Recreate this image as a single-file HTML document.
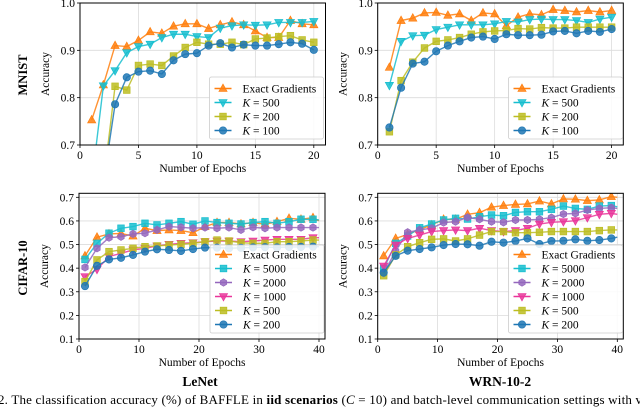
<!DOCTYPE html>
<html><head><meta charset="utf-8">
<style>
body{margin:0;background:#fff;}
svg{display:block;font-family:"Liberation Serif",serif;}
</style></head>
<body>
<svg id="fig" width="640" height="407" viewBox="0 0 640 407" xmlns="http://www.w3.org/2000/svg">
<text x="27" y="75" transform="rotate(-90 27 75)" text-anchor="middle" font-weight="bold" font-size="12.5">MNIST</text>
<text x="27" y="268" transform="rotate(-90 27 268)" text-anchor="middle" font-weight="bold" font-size="12.5">CIFAR-10</text>
<text x="200" y="386" text-anchor="middle" font-weight="bold" font-size="13.5">LeNet</text>
<text x="500" y="386" text-anchor="middle" font-weight="bold" font-size="13.5">WRN-10-2</text>
<text x="-2" y="404" font-size="13" textLength="644" lengthAdjust="spacing">2. The classification accuracy (%) of BAFFLE in <tspan font-weight="bold">iid scenarios</tspan> (<tspan font-style="italic">C</tspan> = 10) and batch-level communication settings with v</text>
</svg>
<script>
// ===== Data =====
const epochsTop = [1,2,3,4,5,6,7,8,9,10,11,12,13,14,15,16,17,18,19,20];
const epochsBottom = [1,3,5,7,9,11,13,15,17,19,21,23,25,27,29,31,33,35,37,39,40];

const mnistLenetExact = [0.753,0.827,0.910,0.908,0.921,0.939,0.936,0.951,0.956,0.956,0.946,0.954,0.960,0.954,0.941,0.927,0.927,0.963,0.956,0.954];
const mnistLenetK500 = [0.62,0.825,0.857,0.895,0.908,0.913,0.927,0.934,0.934,0.929,0.927,0.947,0.952,0.954,0.953,0.954,0.959,0.959,0.959,0.961];
const mnistLenetK200 = [0.55,0.62,0.824,0.816,0.868,0.871,0.868,0.888,0.906,0.917,0.913,0.913,0.917,0.912,0.924,0.926,0.929,0.931,0.922,0.917];
const mnistLenetK100 = [0.5,0.62,0.786,0.843,0.855,0.857,0.850,0.879,0.892,0.894,0.910,0.915,0.906,0.912,0.910,0.910,0.913,0.917,0.914,0.901];

const mnistWrnExact = [0.864,0.963,0.968,0.979,0.980,0.974,0.977,0.963,0.979,0.977,0.952,0.970,0.977,0.975,0.986,0.984,0.981,0.984,0.981,0.984];
const mnistWrnK500 = [0.826,0.919,0.931,0.932,0.944,0.949,0.954,0.954,0.954,0.956,0.961,0.960,0.965,0.966,0.965,0.965,0.963,0.959,0.966,0.970];
const mnistWrnK200 = [0.728,0.836,0.875,0.905,0.919,0.922,0.927,0.934,0.939,0.941,0.942,0.946,0.945,0.948,0.947,0.947,0.949,0.949,0.949,0.949];
const mnistWrnK100 = [0.737,0.821,0.872,0.876,0.898,0.910,0.919,0.927,0.929,0.924,0.934,0.932,0.932,0.933,0.940,0.941,0.936,0.941,0.939,0.945];

const cifarLenetExact = [0.452,0.531,0.545,0.547,0.536,0.569,0.559,0.562,0.559,0.550,0.576,0.593,0.593,0.587,0.593,0.586,0.597,0.611,0.607,0.614,0.601];
const cifarLenetK5000 = [0.437,0.505,0.548,0.569,0.576,0.590,0.583,0.590,0.597,0.586,0.600,0.593,0.590,0.587,0.593,0.597,0.590,0.597,0.607,0.607,0.604];
const cifarLenetK2000 = [0.403,0.484,0.529,0.533,0.545,0.548,0.562,0.576,0.573,0.569,0.572,0.569,0.572,0.562,0.573,0.569,0.572,0.572,0.572,0.572,0.572];
const cifarLenetK1000 = [0.364,0.395,0.449,0.463,0.477,0.484,0.494,0.501,0.505,0.508,0.512,0.515,0.515,0.512,0.515,0.519,0.522,0.522,0.522,0.529,0.529];
const cifarLenetK500 = [0.343,0.435,0.470,0.477,0.484,0.491,0.494,0.498,0.501,0.505,0.512,0.519,0.515,0.508,0.505,0.505,0.512,0.512,0.515,0.519,0.519];
const cifarLenetK200 = [0.324,0.410,0.437,0.444,0.456,0.470,0.480,0.477,0.473,0.481,0.487,0.487,0.484,0.486,0.488,0.489,0.488,0.490,0.490,0.491,0.491];

const cifarWrnExact = [0.452,0.526,0.543,0.564,0.583,0.607,0.607,0.628,0.635,0.658,0.665,0.670,0.672,0.684,0.672,0.693,0.692,0.686,0.689,0.703,0.700];
const cifarWrnK5000 = [0.399,0.505,0.536,0.571,0.587,0.604,0.611,0.608,0.618,0.625,0.622,0.636,0.639,0.639,0.649,0.663,0.653,0.649,0.663,0.665,0.660];
const cifarWrnK2000 = [0.378,0.473,0.552,0.562,0.569,0.593,0.597,0.615,0.607,0.597,0.594,0.604,0.604,0.607,0.614,0.629,0.632,0.646,0.653,0.656,0.653];
const cifarWrnK1000 = [0.409,0.498,0.526,0.540,0.555,0.559,0.562,0.559,0.569,0.559,0.555,0.559,0.569,0.587,0.594,0.597,0.601,0.614,0.628,0.632,0.628];
const cifarWrnK500 = [0.368,0.456,0.491,0.508,0.522,0.524,0.515,0.524,0.540,0.555,0.555,0.550,0.550,0.552,0.555,0.555,0.555,0.555,0.559,0.562,0.562];
const cifarWrnK200 = [0.381,0.452,0.474,0.481,0.488,0.498,0.502,0.501,0.495,0.512,0.508,0.515,0.526,0.502,0.515,0.516,0.522,0.516,0.519,0.526,0.531];

const topYTicks = [0.7,0.8,0.9,1.0];
const topXTicks = [0,5,10,15,20];
const bottomYTicks = [0.1,0.2,0.3,0.4,0.5,0.6,0.7];
const bottomXTicks = [0,10,20,30,40];
const topLegend = ["Exact Gradients","K = 500","K = 200","K = 100"];
const bottomLegend = ["Exact Gradients","K = 5000","K = 2000","K = 1000","K = 500","K = 200"];

// ===== Drawing =====
const NS = "http://www.w3.org/2000/svg";
const svg = document.getElementById('fig');
const C = {orange:'#ff7f0e',cyan:'#17becf',purple:'#9467bd',pink:'#e9359a',olive:'#bcbd22',blue:'#1f77b4'};
const FS = 11.5;
function mk(tag, attrs, parent){const e=document.createElementNS(NS,tag);for(const k in attrs)e.setAttribute(k,attrs[k]);(parent||svg).appendChild(e);return e;}

function marker(g, shape, x, y, color){
  const r=3.7; let e;
  if(shape==='tri') e=mk('polygon',{points:`${x},${y-r*1.2} ${x-r*1.1},${y+r*0.8} ${x+r*1.1},${y+r*0.8}`},g);
  else if(shape==='tridown') e=mk('polygon',{points:`${x},${y+r*1.2} ${x-r*1.1},${y-r*0.8} ${x+r*1.1},${y-r*0.8}`},g);
  else if(shape==='square') e=mk('rect',{x:x-r*0.9,y:y-r*0.9,width:r*1.8,height:r*1.8},g);
  else if(shape==='hex'){let p=[];for(let i=0;i<6;i++){const a=Math.PI/3*i+Math.PI/6;p.push((x+r*Math.cos(a))+','+(y+r*Math.sin(a)));}e=mk('polygon',{points:p.join(' ')},g);}
  else e=mk('circle',{cx:x,cy:y,r:r},g);
  e.setAttribute('fill',color);e.setAttribute('stroke',color);e.setAttribute('stroke-width','0.7');e.setAttribute('fill-opacity','0.85');
  
  
  return e;
}

let clipId=0;
function panel(p){
  const g=mk('g',{});
  
  
  const sx=v=>p.x0+(v-p.xlim[0])/(p.xlim[1]-p.xlim[0])*(p.x1-p.x0);
  const sy=v=>p.y1-(v-p.ylim[0])/(p.ylim[1]-p.ylim[0])*(p.y1-p.y0);
  p.xticks.forEach(t=>{const l=mk('line',{x1:sx(t),x2:sx(t),y1:p.y0,y2:p.y1,stroke:'#dcdcdc','stroke-width':0.8},g);});
  p.yticks.forEach(t=>{const l=mk('line',{x1:p.x0,x2:p.x1,y1:sy(t),y2:sy(t),stroke:'#dcdcdc','stroke-width':0.8},g);});
  p.xticks.forEach(t=>{
    mk('line',{x1:sx(t),x2:sx(t),y1:p.y1,y2:p.y1+3,stroke:'#000','stroke-width':0.8},g);
    const tx=mk('text',{x:sx(t),y:p.y1+14,'text-anchor':'middle','font-size':FS},g);tx.textContent=t;
    
  });
  p.yticks.forEach(t=>{
    mk('line',{x1:p.x0-3,x2:p.x0,y1:sy(t),y2:sy(t),stroke:'#000','stroke-width':0.8},g);
    const tx=mk('text',{x:p.x0-5,y:sy(t)+4,'text-anchor':'end','font-size':FS},g);tx.textContent=t.toFixed(1);
    
  });
  const xl=mk('text',{x:(p.x0+p.x1)/2,y:p.y1+27,'text-anchor':'middle','font-size':FS},g);xl.textContent='Number of Epochs';
  
  const yx=p.x0-31, yc=(p.y0+p.y1)/2;
  const yl=mk('text',{x:yx,y:yc,'text-anchor':'middle','font-size':FS,transform:`rotate(-90 ${yx} ${yc})`},g);yl.textContent='Accuracy';
  
  const id='clip'+(clipId++);
  const cp=mk('clipPath',{id:id},g);mk('rect',{x:p.x0,y:p.y0,width:p.x1-p.x0,height:p.y1-p.y0},cp);
  const sg=mk('g',{'clip-path':`url(#${id})`},g);
  p.series.forEach(s=>{
    const sgg=mk('g',{},sg);
    
    
    const pts=s.vals.map((v,i)=>sx(p.epochs[i])+','+sy(v)).join(' ');
    mk('polyline',{points:pts,fill:'none',stroke:s.color,'stroke-width':1.4,'stroke-opacity':0.85},sgg);
    s.vals.forEach((v,i)=>{ if(p.epochs[i]%2===1 || p.every1) marker(sgg,s.shape,sx(p.epochs[i]),sy(v),s.color);});
  });
  const fr=mk('rect',{x:p.x0,y:p.y0,width:p.x1-p.x0,height:p.y1-p.y0,fill:'none',stroke:'#000','stroke-width':1},g);
  
  const L=p.legend;
  const lg=mk('g',{},g);
  
  
  mk('rect',{x:L.x,y:L.y,width:L.w,height:L.h,rx:2,fill:'#fff','fill-opacity':0.85,stroke:'#cccccc','stroke-width':0.8},lg);
  p.series.forEach((s,i)=>{
    const ey=L.y+L.first+i*L.step;
    const eg=mk('g',{},lg);
    
    
    mk('line',{x1:L.x+5,x2:L.x+22,y1:ey,y2:ey,stroke:s.color,'stroke-width':1.4},eg);
    marker(eg,s.shape,L.x+13.5,ey,s.color);
    const t=mk('text',{x:L.x+33,y:ey+4,'font-size':FS},eg);
    const lab=p.labels[i];
    if(lab.startsWith('K')){const a=mk('tspan',{'font-style':'italic'},t);a.textContent='K';const b=mk('tspan',{},t);b.textContent=lab.slice(1);}
    else t.textContent=lab;
  });
}

const topSeriesL=[
 {key:'exact',vals:mnistLenetExact,color:C.orange,shape:'tri'},
 {key:'k500',vals:mnistLenetK500,color:C.cyan,shape:'tridown'},
 {key:'k200',vals:mnistLenetK200,color:C.olive,shape:'square'},
 {key:'k100',vals:mnistLenetK100,color:C.blue,shape:'circle'}];
const topSeriesR=[
 {key:'exact',vals:mnistWrnExact,color:C.orange,shape:'tri'},
 {key:'k500',vals:mnistWrnK500,color:C.cyan,shape:'tridown'},
 {key:'k200',vals:mnistWrnK200,color:C.olive,shape:'square'},
 {key:'k100',vals:mnistWrnK100,color:C.blue,shape:'circle'}];
const botSeries=(a)=>[
 {key:'exact',vals:a[0],color:C.orange,shape:'tri'},
 {key:'k5000',vals:a[1],color:C.cyan,shape:'square'},
 {key:'k2000',vals:a[2],color:C.purple,shape:'hex'},
 {key:'k1000',vals:a[3],color:C.pink,shape:'tridown'},
 {key:'k500',vals:a[4],color:C.olive,shape:'square'},
 {key:'k200',vals:a[5],color:C.blue,shape:'circle'}];

const topLeg=(x)=>({x:x,y:77,w:114,h:62,first:11.5,step:14});
const botLeg=(x)=>({x:x,y:245,w:114,h:88,first:9.5,step:14});

panel({name:'panel-mnist-lenet',x0:80,x1:325.5,y0:3,y1:145,xlim:[0,21],ylim:[0.7,1.0],xticks:topXTicks,yticks:topYTicks,epochs:epochsTop,every1:true,series:topSeriesL,legend:topLeg(209.5),labels:topLegend});
panel({name:'panel-mnist-wrn',x0:377.7,x1:623.3,y0:3,y1:145,xlim:[0,21],ylim:[0.7,1.0],xticks:topXTicks,yticks:topYTicks,epochs:epochsTop,every1:true,series:topSeriesR,legend:topLeg(508.5),labels:topLegend});
panel({name:'panel-cifar-lenet',x0:79,x1:325,y0:193.3,y1:339,xlim:[0,41],ylim:[0.1,0.717],xticks:bottomXTicks,yticks:bottomYTicks,epochs:epochsBottom,every1:false,series:botSeries([cifarLenetExact,cifarLenetK5000,cifarLenetK2000,cifarLenetK1000,cifarLenetK500,cifarLenetK200]),legend:botLeg(210),labels:bottomLegend});
panel({name:'panel-cifar-wrn',x0:377.7,x1:623.3,y0:193.3,y1:339,xlim:[0,41],ylim:[0.1,0.717],xticks:bottomXTicks,yticks:bottomYTicks,epochs:epochsBottom,every1:false,series:botSeries([cifarWrnExact,cifarWrnK5000,cifarWrnK2000,cifarWrnK1000,cifarWrnK500,cifarWrnK200]),legend:botLeg(508.5),labels:bottomLegend});
</script>
</body></html>
